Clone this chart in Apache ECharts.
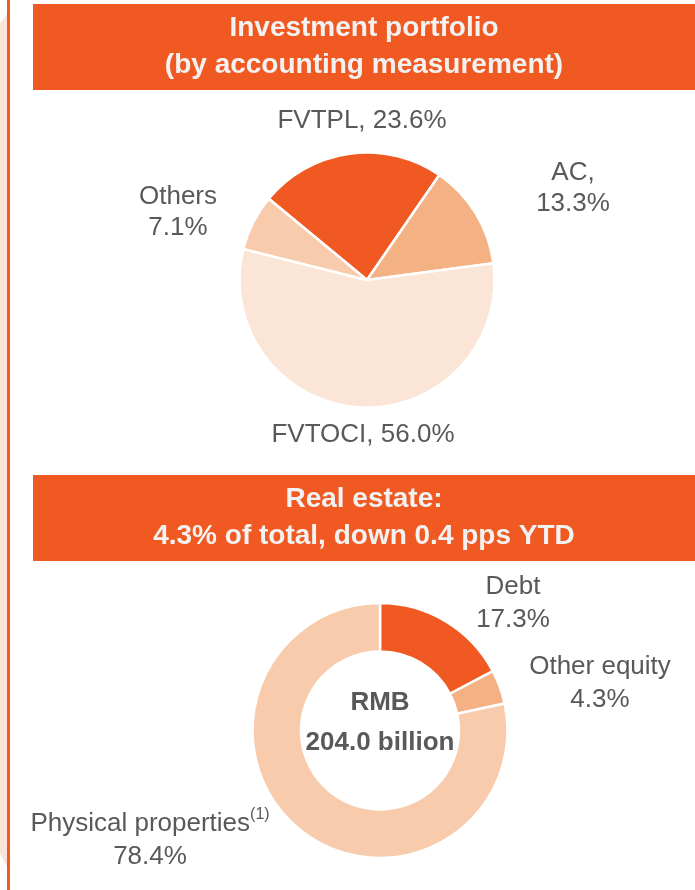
<!DOCTYPE html>
<html>
<head>
<meta charset="utf-8">
<script src="https://cdn.jsdelivr.net/npm/echarts@6/dist/echarts.min.js"></script>
<style>
html, body { margin: 0; padding: 0; background: #fff; }
#main { width: 695px; height: 890px; }
</style>
</head>
<body>
<div id="main"></div>
<script>
// data
var portfolioNames = ['FVTPL', 'AC', 'FVTOCI', 'Others'];
var portfolioShares = [23.6, 13.3, 56.0, 7.1];
var portfolioColors = ['#F05A22', '#F4B183', '#FBE5D6', '#F8CBAD'];

var estateNames = ['Debt', 'Other equity', 'Physical properties'];
var estateShares = [17.3, 4.3, 78.4];
var estateColors = ['#F05A22', '#F4B183', '#F8CBAD'];

var FONT = '"Liberation Sans", Arial, sans-serif';
var GREY = '#595959';
var ORANGE = '#F05A22';

// where each label block sits (centre of block)
var portfolioLabelPos = [[362, 121], [573, 188], [363, 435], [178, 212]];
var estateLabelPos = [[513, 603], [600, 683], [150, 840]];

function portfolioLabel(p)
{
	var v = p.value.toFixed(1) + '%';
	if (p.name == 'AC') return 'AC,\n' + v;
	if (p.name == 'Others') return 'Others\n' + v;
	return p.name + ', ' + v;
}

function estateLabel(p)
{
	var v = p.value.toFixed(1) + '%';
	if (p.name == 'Physical properties') return p.name + '{sup|(1)}\n' + v;
	return p.name + '\n' + v;
}

function makeData(names, values, colors)
{
	var out = [];
	for (var i = 0; i < names.length; i++) {
		out.push({ name: names[i], value: values[i], itemStyle: { color: colors[i] } });
	}
	return out;
}

function headerBox(top, text)
{
	return {
		type: 'group',
		children: [
			{ type: 'rect', shape: { x: 33, y: top, width: 670, height: 86 }, style: { fill: ORANGE } },
			{
				type: 'text',
				style: {
					text: text, x: 364, y: top + 43,
					textAlign: 'center', textVerticalAlign: 'middle',
					fontFamily: FONT, fontWeight: 'bold', fontSize: 28, lineHeight: 37,
					fill: '#F2F2F2'
				}
			}
		]
	};
}

var labelBase = {
	show: true,
	position: 'outside',
	color: GREY,
	fontFamily: FONT,
	fontSize: 26,
	lineHeight: 31,
	align: 'center'
};

var option = {
	backgroundColor: '#fff',
	animation: false,
	graphic: [
		{ type: 'polygon', shape: { points: [[0, 23], [7, 14], [7, 867], [0, 853]] }, style: { fill: '#FBE5D6' } },
		{ type: 'rect', shape: { x: 7, y: 0, width: 3, height: 890 }, style: { fill: ORANGE } },
		headerBox(4, 'Investment portfolio\n(by accounting measurement)'),
		headerBox(475, 'Real estate:\n4.3% of total, down 0.4 pps YTD'),
		{
			type: 'text',
			z: 100,
			style: {
				text: 'RMB\n204.0 billion', x: 380, y: 723,
				textAlign: 'center', textVerticalAlign: 'middle',
				fontFamily: FONT, fontWeight: 'bold', fontSize: 26, lineHeight: 40,
				fill: GREY
			}
		}
	],
	series: [
		{
			type: 'pie',
			center: [367, 280],
			radius: [0, 127.5],
			startAngle: 140.4,
			clockwise: true,
			avoidLabelOverlap: false,
			silent: true,
			itemStyle: { borderColor: '#fff', borderWidth: 2.5 },
			label: Object.assign({}, labelBase, { formatter: portfolioLabel }),
			labelLine: { show: false },
			labelLayout: function (p) {
				var pos = portfolioLabelPos[p.dataIndex];
				return { x: pos[0], y: pos[1], align: 'center', verticalAlign: 'middle' };
			},
			data: makeData(portfolioNames, portfolioShares, portfolioColors)
		},
		{
			type: 'pie',
			center: [380, 730.5],
			radius: [79, 127.5],
			startAngle: 90,
			clockwise: true,
			avoidLabelOverlap: false,
			silent: true,
			itemStyle: { borderColor: '#fff', borderWidth: 2.5 },
			label: Object.assign({}, labelBase, {
				formatter: estateLabel,
				lineHeight: 33,
				rich: {
					sup: { fontSize: 16, color: GREY, fontFamily: FONT, verticalAlign: 'top', lineHeight: 33, padding: [0, 0, 12, 0] }
				}
			}),
			labelLine: { show: false },
			labelLayout: function (p) {
				var pos = estateLabelPos[p.dataIndex];
				return { x: pos[0], y: pos[1], align: 'center', verticalAlign: 'middle' };
			},
			data: makeData(estateNames, estateShares, estateColors)
		}
	]
};

var myChart = echarts.init(document.getElementById('main'));
myChart.setOption(option);
</script>
</body>
</html>
